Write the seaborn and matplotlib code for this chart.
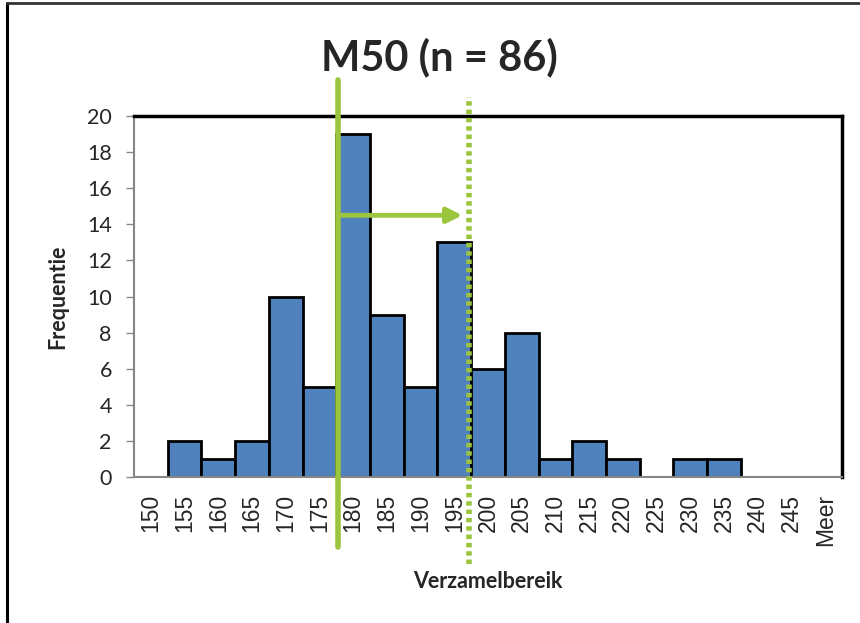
import seaborn as sns
import pandas as pd
import matplotlib.pyplot as plt
from matplotlib.lines import Line2D

# histogram bins and counts
bins = ["150", "155", "160", "165", "170", "175", "180", "185", "190", "195",
        "200", "205", "210", "215", "220", "225", "230", "235", "240", "245", "Meer"]
counts = [0, 2, 1, 2, 10, 5, 19, 9, 5, 13, 6, 8, 1, 2, 1, 0, 1, 1, 0, 0, 0]

# marker positions (in bin index units) and arrow height
start_pos = 5.55
end_pos = 9.44
arrow_y = 14.5

df = pd.DataFrame({"Verzamelbereik": bins, "Frequentie": counts})

sns.set_style("white")
plt.rcParams['font.family'] = ['Lato', 'DejaVu Sans']

fig = plt.figure(figsize=(8.6, 6.23), dpi=100)
ax = fig.add_axes([0.1558, 0.2343, 0.8233, 0.5795])

sns.barplot(data=df, x="Verzamelbereik", y="Frequentie", color="#4F81BD",
            width=1.0, edgecolor="black", linewidth=2, saturation=1, ax=ax)

ax.set_xlim(-0.5, len(bins) - 0.5)
ax.set_ylim(0, 20)
ax.set_yticks(range(0, 21, 2))
ax.tick_params(axis="y", labelsize=15.5, length=6, width=1, color="#868686",
               pad=10, direction="out", left=True)
ax.tick_params(axis="x", length=0, pad=12)
for lab in ax.get_xticklabels():
    lab.set_rotation(90)
    lab.set_fontfamily("Liberation Sans")
    lab.set_fontsize(16.5)
    lab.set_va("top")

for side in ["top", "right"]:
    ax.spines[side].set_color("black")
    ax.spines[side].set_linewidth(2.5)
for side in ["left", "bottom"]:
    ax.spines[side].set_color("#868686")
    ax.spines[side].set_linewidth(1.5)

ax.set_xlabel("Verzamelbereik", fontsize=15.5, fontweight="bold")
ax.set_ylabel("Frequentie", fontsize=15.5, fontweight="bold")
ax.xaxis.set_label_coords(0.5, -0.26)
ax.yaxis.set_label_coords(-0.093, 0.5)

green = "#9BC53D"
ax.plot([start_pos, start_pos], [-3.9, 22.0], color=green, lw=4,
        clip_on=False, zorder=5)
ax.plot([end_pos, end_pos], [-4.8, 21.05], color=green, lw=4,
        ls=(0, (0.8, 0.7)), clip_on=False, zorder=5)
ax.annotate("", xy=(end_pos - 0.2, arrow_y), xytext=(start_pos, arrow_y),
            arrowprops=dict(arrowstyle="-|>,head_length=0.9,head_width=0.45",
                            color=green, lw=3.5, shrinkA=0, shrinkB=0),
            zorder=6)

fig.text(0.511, 0.908, "M50 (n = 86)", fontsize=30, fontweight="bold",
         ha="center", va="center")

# slide frame edges
fig.add_artist(Line2D([0.008, 0.008], [0, 0.995], color="black", lw=2.2))
fig.add_artist(Line2D([0.008, 1], [0.995, 0.995], color="#333333", lw=2))

fig.savefig("out.png", dpi=100)
